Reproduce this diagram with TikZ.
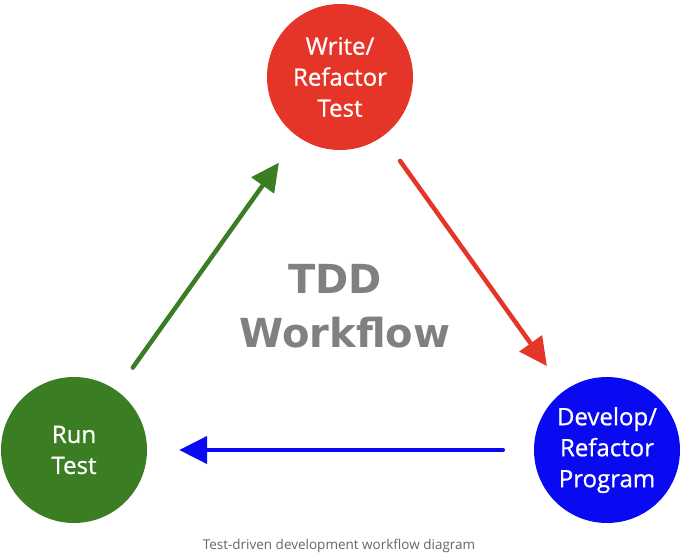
\documentclass[tikz,border=0pt]{standalone}
\usepackage{fontspec}
\setmainfont{Open Sans}
\newfontfamily\stagefont{Open Sans}[FakeBold=0.8]
\newfontfamily\tddfont{DejaVu Sans}
\usetikzlibrary{arrows.meta}
\definecolor{cred}{HTML}{E53528}
\definecolor{cgreen}{HTML}{3B7D23}
\definecolor{cblue}{HTML}{0A0AF2}
\definecolor{cgray}{HTML}{808080}
\definecolor{capgray}{HTML}{666666}
\tikzset{
  stage/.style={circle, minimum size=146pt, inner sep=0pt, align=center,
    text=white, font=\stagefont\fontsize{24}{31}\selectfont},
  flow/.style={line width=4.5pt, line cap=round,
    -{Triangle[length=28pt,width=27pt]}},
}
\begin{document}
\begin{tikzpicture}[x=1pt,y=-1pt]
\useasboundingbox (0,0) rectangle (680,554);
\node[stage, fill=cred] (w) at (340,77) {Write/\\Refactor\\Test};
\node[stage, fill=cblue] (d) at (607,450) {Develop/\\Refactor\\Program};
\node[stage, fill=cgreen] (r) at (74,450) {Run\\Test};
\draw[flow, cred, shorten <=30pt, shorten >=30pt] (w) -- (d);
\draw[flow, cblue, shorten <=31pt, shorten >=32pt] (d) -- (r);
\draw[flow, cgreen, shorten <=28pt, shorten >=32pt] (r) -- (w);
\node[anchor=base, text=cgray, font=\tddfont\bfseries\fontsize{40}{48}\selectfont] (t1) at (335,293) {TDD};
\node[anchor=base, text=cgray, font=\tddfont\bfseries\fontsize{40}{48}\selectfont] (t2) at (345,347) {Workflow};
\node[anchor=base, text=capgray, font=\fontsize{13.5}{16}\selectfont] (cap) at (339,549) {Test-driven development workflow diagram};
\end{tikzpicture}
\end{document}
